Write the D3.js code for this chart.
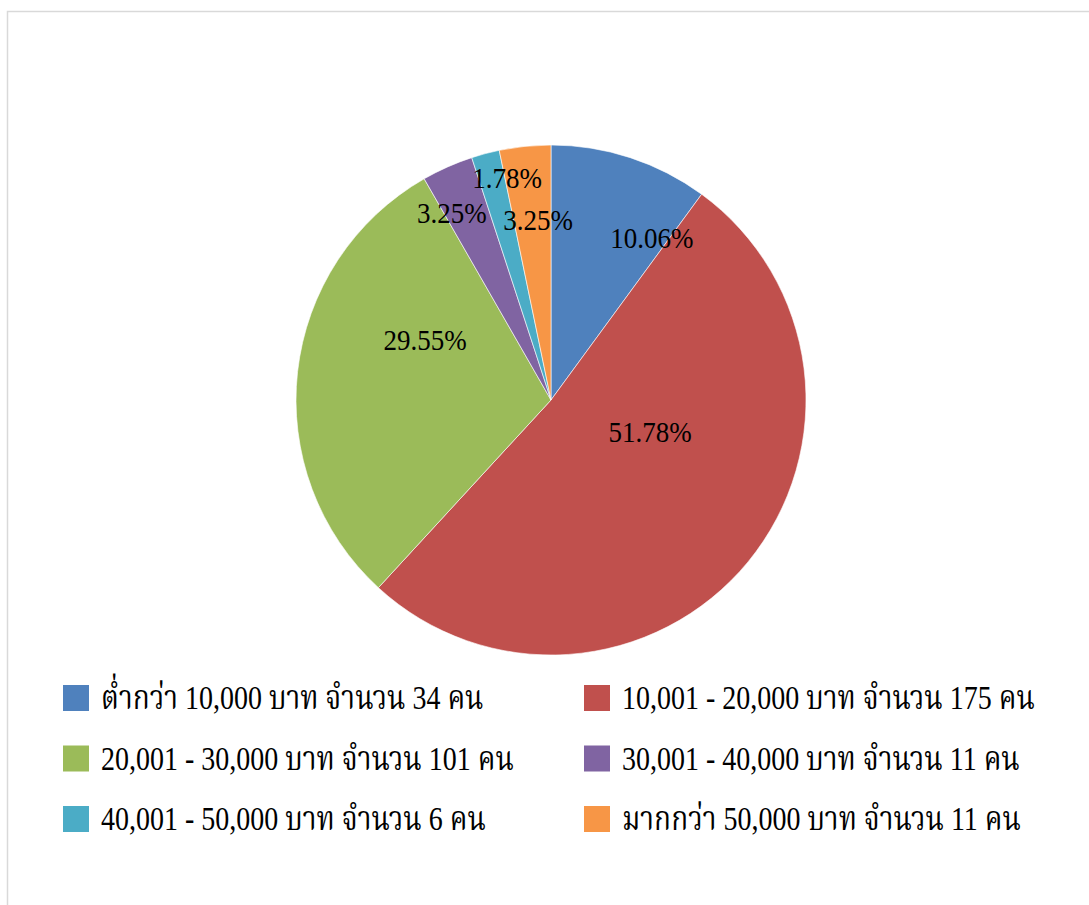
<!DOCTYPE html>
<html><head><meta charset="utf-8">
<script src="https://cdn.jsdelivr.net/npm/d3@7"></script>
<style>html,body{margin:0;padding:0;background:#fff;}svg{display:block;}</style>
</head><body>
<svg id="chart" width="1089" height="905"></svg>
<script>
const categories = [
  "ต่ำกว่า 10,000 บาท จำนวน 34 คน",
  "10,001 - 20,000 บาท จำนวน 175 คน",
  "20,001 - 30,000 บาท จำนวน 101 คน",
  "30,001 - 40,000 บาท จำนวน 11 คน",
  "40,001 - 50,000 บาท จำนวน 6 คน",
  "มากกว่า 50,000 บาท จำนวน 11 คน"
];
const counts = [34, 175, 101, 11, 6, 11];
const percentLabels = ["10.06%", "51.78%", "29.55%", "3.25%", "1.78%", "3.25%"];
const colors = ["#4F81BD", "#C0504D", "#9BBB59", "#8064A2", "#4BACC6", "#F79646"];
// label placement: [angle in degrees clockwise from top, radius fraction]
const labelPolar = [[31.9,0.749],[107.9,0.408],[295.5,0.547],[332.1,0.83],[348.8,0.887],[355.9,0.708]];

const svg = d3.select("#chart");
const font = "Liberation Serif, Noto Serif Thai, serif";

svg.append("rect").attr("x",7.5).attr("y",11.5).attr("width",1200).attr("height",1000)
  .attr("fill","none").attr("stroke","#d9d9d9").attr("stroke-width",1.5);

const cx = 551, cy = 400, R = 255;
const g = svg.append("g").attr("transform",`translate(${cx},${cy})`);
const pie = d3.pie().sort(null).value(d=>d);
const arcs = pie(counts);
const arc = d3.arc().innerRadius(0).outerRadius(R);
g.selectAll("path.slice").data(arcs).join("path").attr("class","slice")
  .attr("d",arc).attr("fill",(d,i)=>colors[i]).attr("stroke","#fff").attr("stroke-width",0.6);

const rScale = d3.scaleLinear().domain([0,1]).range([0,R]);
g.selectAll("text.lbl").data(labelPolar).join("text").attr("class","lbl")
  .attr("transform",d=>`translate(${rScale(d[1])*Math.sin(d[0]*Math.PI/180)},${-rScale(d[1])*Math.cos(d[0]*Math.PI/180)}) scale(1,1.12)`)
  .attr("dy","0.33em").attr("text-anchor","middle")
  .style("font-family",font).style("font-size","27px").attr("fill","#000")
  .text((d,i)=>percentLabels[i]);

const legend = svg.append("g");
const lx = d3.scaleOrdinal().domain([0,1]).range([63,584]);
const ly = d3.scaleLinear().domain([0,1]).range([685,745.5]);
const items = legend.selectAll("g").data(categories).join("g")
  .attr("transform",(d,i)=>`translate(${lx(i%2)},${ly(Math.floor(i/2))})`);
items.append("rect").attr("width",26).attr("height",26).attr("fill",(d,i)=>colors[i]);
items.append("text").attr("transform","translate(38,24) scale(1,1.2)")
  .style("font-family",font).style("font-size","28px").attr("fill","#000").text(d=>d);
</script>
</body></html>
